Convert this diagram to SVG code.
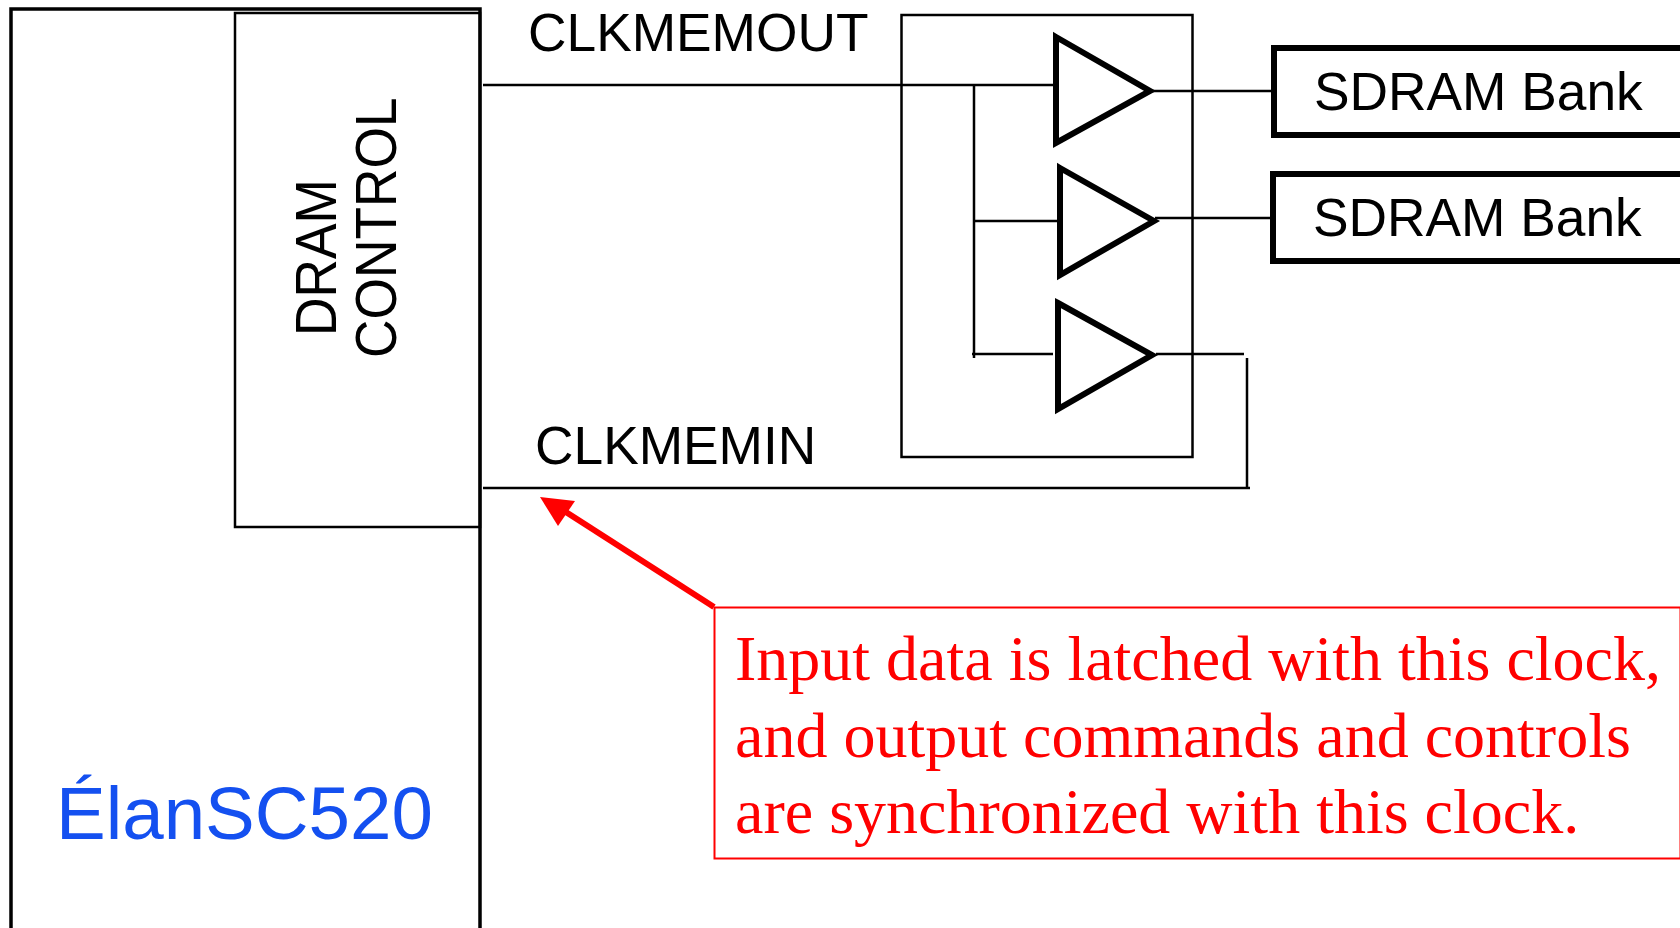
<svg xmlns="http://www.w3.org/2000/svg" width="1680" height="928" viewBox="0 0 1680 928">
<style>
.s{font-family:"Liberation Sans",Arial,sans-serif;font-size:53.3px;fill:#000}
.r{font-family:"Liberation Serif","Times New Roman",serif;font-size:64px;fill:#f00}
.l{fill:none;stroke:#000;stroke-width:2.5}
.t{fill:none;stroke:#000;stroke-width:6}
</style>
<rect width="1680" height="928" fill="#fff"/>
<g id="elan"><path class="t" style="stroke-width:3.5" d="M11 928V9H480V928"/><text x="56" y="839" style="font-family:'Liberation Sans',Arial,sans-serif;font-size:74.5px;fill:#1450f0">ÉlanSC520</text></g>
<g id="dram"><rect x="235" y="13" width="245" height="514" class="l"/>
<text transform="translate(335.500 336) rotate(-90) scale(1 1.07)" class="s">DRAM</text>
<text transform="translate(396 358) rotate(-90) scale(1 1.07)" class="s">CONTROL</text></g>
<g id="buffer-box"><rect x="901.500" y="15" width="291" height="442" class="l"/></g>
<g id="connectors">
<path class="l" d="M483 85H1056M974 85V358M974 221H1060M972 354H1053M1150 91H1273M1155 218H1273M1156 354H1244M1247 358V488M483 488H1250"/>
<path d="M714 607L555 505" stroke="#f00" stroke-width="6" fill="none"/>
<polygon points="540,497 575,501 558,526" fill="#f00"/>
</g>
<g id="buf1"><polygon class="t" points="1056,37 1150,91 1056,143"/></g>
<g id="buf2"><polygon class="t" points="1060,168 1154,221 1060,275"/></g>
<g id="buf3"><polygon class="t" points="1058,303 1152,355 1058,409"/></g>
<g id="bank1"><rect x="1274" y="48" width="420" height="87" class="t"/><text x="1314" y="110" class="s">SDRAM Bank</text></g>
<g id="bank2"><rect x="1273" y="174" width="420" height="87" class="t"/><text x="1313" y="236" class="s">SDRAM Bank</text></g>
<text id="clkout" x="528" y="51" class="s">CLKMEMOUT</text>
<text id="clkin" x="535" y="464" class="s">CLKMEMIN</text>
<g id="note"><rect x="714.500" y="607.500" width="966" height="251" fill="#fff" stroke="#f00" stroke-width="2"/>
<text x="735" y="680" class="r">Input data is latched with this clock,</text>
<text x="735" y="757" class="r">and output commands and controls</text>
<text x="735" y="833" class="r">are synchronized with this clock.</text></g>
</svg>
